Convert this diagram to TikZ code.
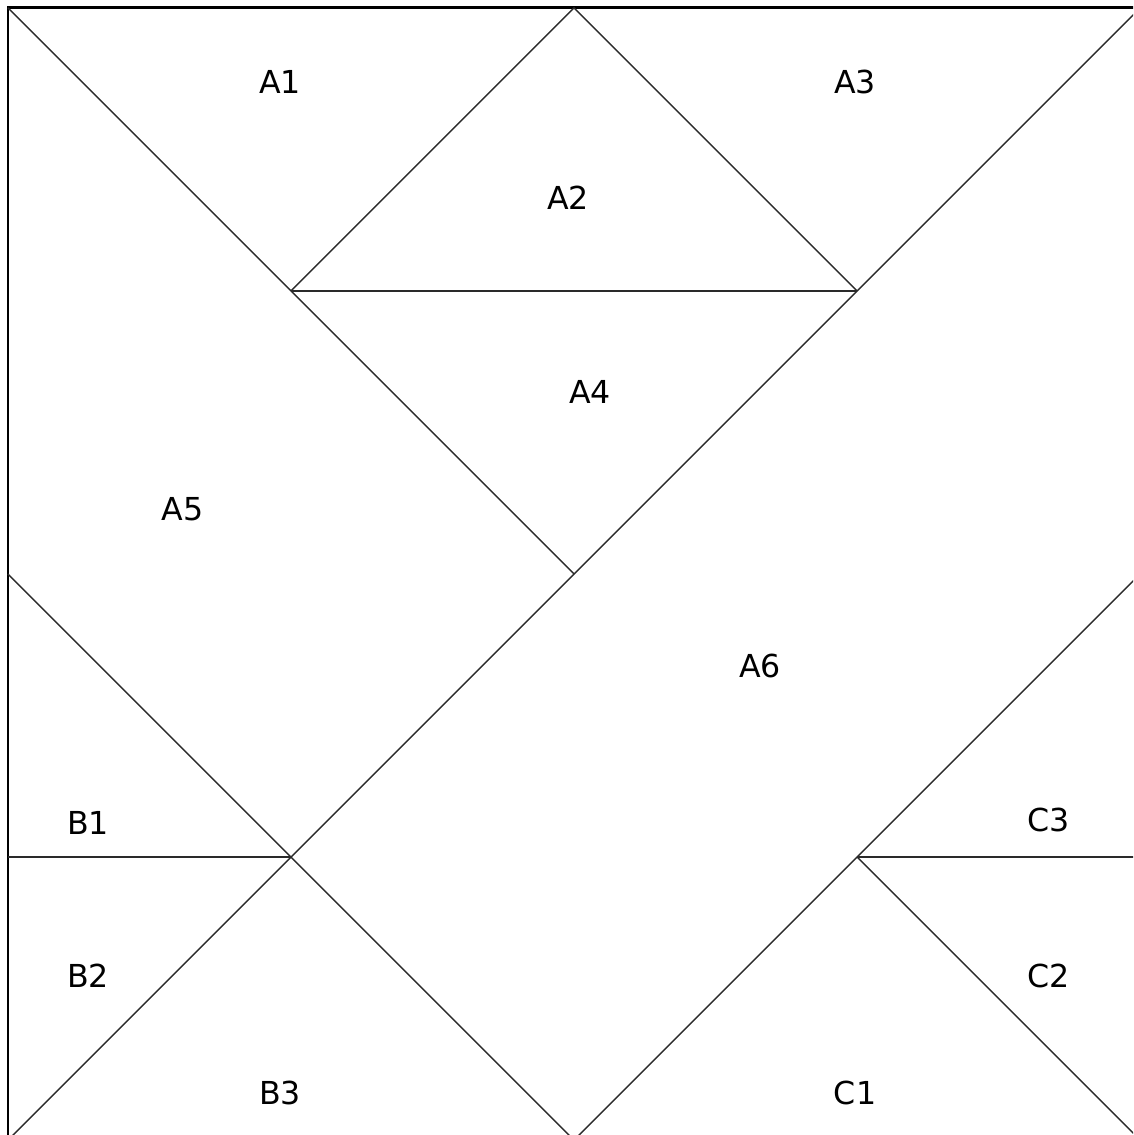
\documentclass[tikz,border=0pt]{standalone}
\usepackage{fontspec}
\setmainfont{DejaVu Sans}
\usepackage{tikz}
\usepackage{xcolor}
\definecolor{seamgray}{HTML}{2A2A2A}

\tikzset{
  seam/.style={seamgray, line width=0.4pt},
  patch/.style={font=\fontsize{9}{11}\selectfont, inner sep=0pt}
}

\begin{document}
\begin{tikzpicture}[x=2.83cm, y=2.83cm]
% Frame of the block
\clip (-0.028,0.018) rectangle (3.975,4.028);
\draw[line width=0.8pt] (0,0) rectangle (4,4);

% Corner points of the patches
\coordinate (tl) at (0,4);
\coordinate (tm) at (2,4);
\coordinate (tr) at (4,4);
\coordinate (p1) at (1,3);
\coordinate (p2) at (3,3);
\coordinate (ml) at (0,2);
\coordinate (mc) at (2,2);
\coordinate (mr) at (4,2);
\coordinate (q1) at (1,1);
\coordinate (q2) at (3,1);
\coordinate (bl) at (0,0);
\coordinate (bm) at (2,0);
\coordinate (br) at (4,0);
\coordinate (el) at (0,1);
\coordinate (er) at (4,1);

% Seams
\draw[seam] (tl) -- (mc);
\draw[seam] (p1) -- (tm) -- (p2);
\draw[seam] (p1) -- (p2);
\draw[seam] (tr) -- (bl);
\draw[seam] (ml) -- (bm);
\draw[seam] (el) -- (q1);
\draw[seam] (mr) -- (bm);
\draw[seam] (q2) -- (er);
\draw[seam] (q2) -- (br);

% Patch labels
\node[patch] (a1) at (0.961,3.739) {A1};
\node[patch] (a2) at (1.979,3.329) {A2};
\node[patch] (a3) at (2.993,3.739) {A3};
\node[patch] (a4) at (2.057,2.643) {A4};
\node[patch] (a5) at (0.618,2.230) {A5};
\node[patch] (a6) at (2.657,1.675) {A6};
\node[patch] (b1) at (0.283,1.120) {B1};
\node[patch] (b2) at (0.283,0.580) {B2};
\node[patch] (b3) at (0.961,0.166) {B3};
\node[patch] (c1) at (2.993,0.166) {C1};
\node[patch] (c2) at (3.675,0.580) {C2};
\node[patch] (c3) at (3.675,1.131) {C3};
\end{tikzpicture}
\end{document}
